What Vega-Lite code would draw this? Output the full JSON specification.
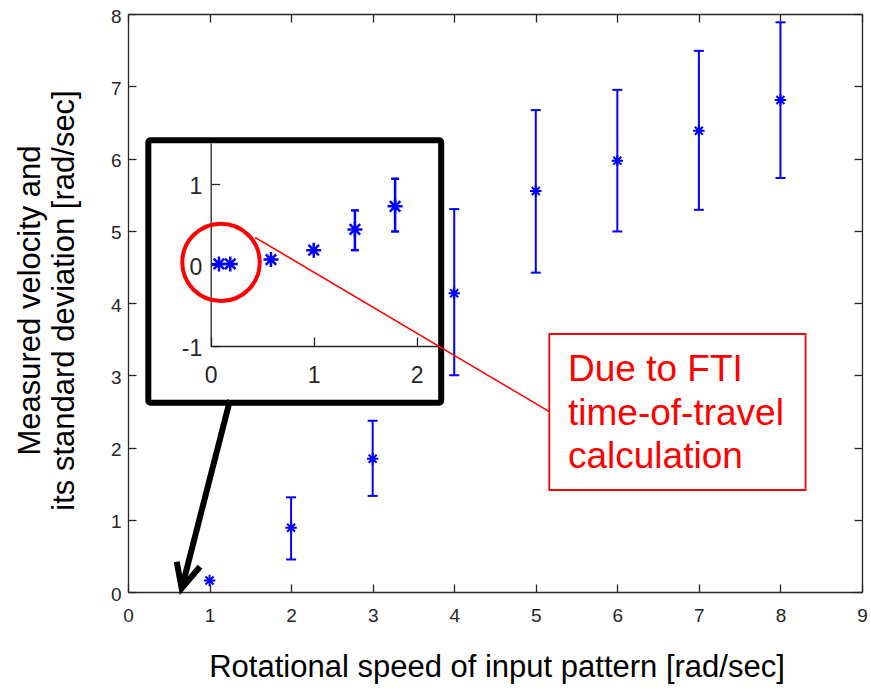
{
  "$schema": "https://vega.github.io/schema/vega-lite/v6.json",
  "width": 734,
  "height": 578,
  "autosize": {"type": "none"},
  "padding": {"left": 128, "top": 14, "right": 9, "bottom": 96},
  "background": "white",
  "config": {
    "view": {"stroke": null},
    "font": "Liberation Sans",
    "axis": {
      "grid": false,
      "domainColor": "#262626",
      "tickColor": "#262626",
      "labelColor": "#262626",
      "domainWidth": 1.3,
      "tickWidth": 1.3,
      "labelFont": "Liberation Sans",
      "labelFlush": false,
      "labelOverlap": false,
      "titleFont": "Liberation Sans",
      "titleFontWeight": "normal",
      "titleColor": "#000000"
    }
  },
  "datasets": {
    "main": [
      {"x": 1, "y": 0.16},
      {"x": 2, "y": 0.89, "lo": 0.45, "hi": 1.31},
      {"x": 3, "y": 1.845, "lo": 1.33, "hi": 2.37},
      {"x": 4, "y": 4.134, "lo": 3.0, "hi": 5.3},
      {"x": 5, "y": 5.55, "lo": 4.42, "hi": 6.67},
      {"x": 6, "y": 5.97, "lo": 4.99, "hi": 6.95},
      {"x": 7, "y": 6.385, "lo": 5.29, "hi": 7.49},
      {"x": 8, "y": 6.81, "lo": 5.73, "hi": 7.885}
    ],
    "inset": [
      {"x": 0.08, "y": 0.01},
      {"x": 0.19, "y": 0.01},
      {"x": 0.585, "y": 0.065},
      {"x": 1.0, "y": 0.18},
      {"x": 1.4, "y": 0.435, "lo": 0.18, "hi": 0.67},
      {"x": 1.79, "y": 0.72, "lo": 0.41, "hi": 1.06}
    ]
  },
  "layer": [
    {
      "layer": [
        {
          "data": {"name": "main"},
          "mark": {"type": "rule", "color": "#0000ff", "strokeWidth": 2},
          "encoding": {
            "x": {"field": "x", "type": "quantitative", "scale": {"domain": [0, 9], "nice": false, "zero": false},
              "axis": {"orient": "bottom", "values": [0, 1, 2, 3, 4, 5, 6, 7, 8, 9], "tickSize": -8, "labelPadding": 22.7, "labelFontSize": 19,
                "title": "Rotational speed of input pattern [rad/sec]", "titleFontSize": 31, "titleBaseline": "alphabetic", "titleX": 368.5, "titleY": 84}},
            "y": {"field": "lo", "type": "quantitative", "scale": {"domain": [0, 8], "nice": false, "zero": false},
              "axis": {"orient": "left", "values": [0, 1, 2, 3, 4, 5, 6, 7, 8], "tickSize": -8, "labelPadding": 15, "labelFontSize": 19, "labelOffset": 2,
                "title": ["Measured velocity and", "its standard deviation [rad/sec]"], "titleFontSize": 31, "titleLineHeight": 34, "titleBaseline": "alphabetic", "titleX": -89, "titleY": 286}},
            "y2": {"field": "hi"}
          }
        },
        {
          "data": {"name": "main"},
          "mark": {"type": "rule", "color": "#0000ff", "strokeWidth": 2, "xOffset": -5, "x2Offset": 5},
          "encoding": {
            "x": {"field": "x", "type": "quantitative", "scale": {"domain": [0, 9], "nice": false, "zero": false}, "axis": null},
            "x2": {"field": "x"},
            "y": {"field": "hi", "type": "quantitative", "scale": {"domain": [0, 8], "nice": false, "zero": false}, "axis": null}
          }
        },
        {
          "data": {"name": "main"},
          "mark": {"type": "rule", "color": "#0000ff", "strokeWidth": 2, "xOffset": -5, "x2Offset": 5},
          "encoding": {
            "x": {"field": "x", "type": "quantitative", "scale": {"domain": [0, 9], "nice": false, "zero": false}, "axis": null},
            "x2": {"field": "x"},
            "y": {"field": "lo", "type": "quantitative", "scale": {"domain": [0, 8], "nice": false, "zero": false}, "axis": null}
          }
        },
        {
          "data": {"name": "main"},
          "mark": {"type": "point", "shape": "M-1,0L1,0M0,-1L0,1M-0.7,-0.7L0.7,0.7M-0.7,0.7L0.7,-0.7", "size": 130, "filled": false, "stroke": "#0000ff", "strokeWidth": 2, "opacity": 1},
          "encoding": {
            "x": {"field": "x", "type": "quantitative", "scale": {"domain": [0, 9], "nice": false, "zero": false}, "axis": null},
            "y": {"field": "y", "type": "quantitative", "scale": {"domain": [0, 8], "nice": false, "zero": false}, "axis": null}
          }
        },
        {
          "data": {"name": "main"},
          "mark": {"type": "point", "opacity": 0},
          "encoding": {
            "x": {"field": "x", "type": "quantitative", "scale": {"domain": [0, 9], "nice": false, "zero": false},
              "axis": {"orient": "top", "values": [0, 1, 2, 3, 4, 5, 6, 7, 8, 9], "labels": false, "tickSize": -8, "title": null}},
            "y": {"field": "y", "type": "quantitative", "scale": {"domain": [0, 8], "nice": false, "zero": false},
              "axis": {"orient": "right", "values": [0, 1, 2, 3, 4, 5, 6, 7, 8], "labels": false, "tickSize": -8, "title": null}}
          }
        },
        {
          "data": {"values": [{"x": 0.249, "x2": 3.84, "y": 6.252, "y2": 2.62}]},
          "mark": {"type": "rect", "fill": "transparent", "stroke": "#000000", "strokeWidth": 6, "cornerRadius": 2},
          "encoding": {
            "x": {"field": "x", "type": "quantitative", "scale": {"domain": [0, 9], "nice": false, "zero": false}, "axis": null},
            "x2": {"field": "x2"},
            "y": {"field": "y", "type": "quantitative", "scale": {"domain": [0, 8], "nice": false, "zero": false}, "axis": null},
            "y2": {"field": "y2"}
          }
        },
        {
          "data": {"values": [{"x": 5.166, "x2": 8.308, "y": 3.571, "y2": 1.412}]},
          "mark": {"type": "rect", "fill": "#ffffff", "stroke": "#ff0000", "strokeWidth": 1.8},
          "encoding": {
            "x": {"field": "x", "type": "quantitative", "scale": {"domain": [0, 9], "nice": false, "zero": false}, "axis": null},
            "x2": {"field": "x2"},
            "y": {"field": "y", "type": "quantitative", "scale": {"domain": [0, 8], "nice": false, "zero": false}, "axis": null},
            "y2": {"field": "y2"}
          }
        },
        {
          "data": {"values": [{"x": 1.557, "y": 4.909, "x2": 5.166, "y2": 2.496}]},
          "mark": {"type": "rule", "color": "#ff0000", "strokeWidth": 1.6},
          "encoding": {
            "x": {"field": "x", "type": "quantitative", "scale": {"domain": [0, 9], "nice": false, "zero": false}, "axis": null},
            "x2": {"field": "x2"},
            "y": {"field": "y", "type": "quantitative", "scale": {"domain": [0, 8], "nice": false, "zero": false}, "axis": null},
            "y2": {"field": "y2"}
          }
        },
        {
          "data": {"values": [{"x": 1.251, "y": 2.657, "x2": 0.671, "y2": 0.105}]},
          "mark": {"type": "rule", "color": "#000000", "strokeWidth": 6},
          "encoding": {
            "x": {"field": "x", "type": "quantitative", "scale": {"domain": [0, 9], "nice": false, "zero": false}, "axis": null},
            "x2": {"field": "x2"},
            "y": {"field": "y", "type": "quantitative", "scale": {"domain": [0, 8], "nice": false, "zero": false}, "axis": null},
            "y2": {"field": "y2"}
          }
        },
        {
          "data": {"values": [{"o": 1, "x": 0.597, "y": 0.419}, {"o": 2, "x": 0.658, "y": 0.051}, {"o": 3, "x": 0.883, "y": 0.35}]},
          "mark": {"type": "line", "color": "#000000", "strokeWidth": 6, "strokeJoin": "miter", "strokeCap": "butt"},
          "encoding": {
            "x": {"field": "x", "type": "quantitative", "scale": {"domain": [0, 9], "nice": false, "zero": false}, "axis": null},
            "y": {"field": "y", "type": "quantitative", "scale": {"domain": [0, 8], "nice": false, "zero": false}, "axis": null},
            "order": {"field": "o", "type": "quantitative"}
          }
        },
        {
          "data": {"values": [
            {"x": 5.395, "y": 2.92, "t": "Due to FTI"},
            {"x": 5.395, "y": 2.318, "t": "time-of-travel"},
            {"x": 5.395, "y": 1.716, "t": "calculation"}
          ]},
          "mark": {"type": "text", "color": "#ff0000", "font": "Liberation Sans", "fontSize": 37, "align": "left", "baseline": "alphabetic"},
          "encoding": {
            "x": {"field": "x", "type": "quantitative", "scale": {"domain": [0, 9], "nice": false, "zero": false}, "axis": null},
            "y": {"field": "y", "type": "quantitative", "scale": {"domain": [0, 8], "nice": false, "zero": false}, "axis": null},
            "text": {"field": "t"}
          }
        }
      ],
      "resolve": {"axis": {"x": "independent", "y": "independent"}}
    },
    {
      "layer": [
        {
          "data": {"name": "inset"},
          "mark": {"type": "rule", "color": "#0000ff", "strokeWidth": 2.5},
          "encoding": {
            "x": {"field": "x", "type": "quantitative", "scale": {"domain": [0, 2.22], "range": [82.7, 311.4], "nice": false, "zero": false},
              "axis": {"orient": "bottom", "offset": -246, "values": [0, 1, 2], "tickSize": -9, "labelPadding": 27.8, "labelFontSize": 23, "title": null}},
            "y": {"field": "lo", "type": "quantitative", "scale": {"domain": [-1, 1.5], "range": [332, 129], "nice": false, "zero": false},
              "axis": {"orient": "left", "offset": -82.7, "values": [-1, 0, 1], "tickSize": -9, "labelPadding": 18, "labelFontSize": 23, "labelOffset": 2.5, "labelExpr": "'' + datum.value", "title": null}},
            "y2": {"field": "hi"}
          }
        },
        {
          "data": {"name": "inset"},
          "mark": {"type": "rule", "color": "#0000ff", "strokeWidth": 2.5, "xOffset": -4, "x2Offset": 4},
          "encoding": {
            "x": {"field": "x", "type": "quantitative", "scale": {"domain": [0, 2.22], "range": [82.7, 311.4], "nice": false, "zero": false}, "axis": null},
            "x2": {"field": "x"},
            "y": {"field": "hi", "type": "quantitative", "scale": {"domain": [-1, 1.5], "range": [332, 129], "nice": false, "zero": false}, "axis": null}
          }
        },
        {
          "data": {"name": "inset"},
          "mark": {"type": "rule", "color": "#0000ff", "strokeWidth": 2.5, "xOffset": -4, "x2Offset": 4},
          "encoding": {
            "x": {"field": "x", "type": "quantitative", "scale": {"domain": [0, 2.22], "range": [82.7, 311.4], "nice": false, "zero": false}, "axis": null},
            "x2": {"field": "x"},
            "y": {"field": "lo", "type": "quantitative", "scale": {"domain": [-1, 1.5], "range": [332, 129], "nice": false, "zero": false}, "axis": null}
          }
        },
        {
          "data": {"name": "inset"},
          "mark": {"type": "point", "shape": "M-1,0L1,0M0,-1L0,1M-0.7,-0.7L0.7,0.7M-0.7,0.7L0.7,-0.7", "size": 225, "filled": false, "stroke": "#0000ff", "strokeWidth": 2.5, "opacity": 1},
          "encoding": {
            "x": {"field": "x", "type": "quantitative", "scale": {"domain": [0, 2.22], "range": [82.7, 311.4], "nice": false, "zero": false}, "axis": null},
            "y": {"field": "y", "type": "quantitative", "scale": {"domain": [-1, 1.5], "range": [332, 129], "nice": false, "zero": false}, "axis": null}
          }
        },
        {
          "data": {"values": [{"x": 0.1, "y": 0.03}]},
          "mark": {"type": "point", "shape": "circle", "size": 6000, "filled": false, "stroke": "#ff0000", "strokeWidth": 4, "opacity": 1},
          "encoding": {
            "x": {"field": "x", "type": "quantitative", "scale": {"domain": [0, 2.22], "range": [82.7, 311.4], "nice": false, "zero": false}, "axis": null},
            "y": {"field": "y", "type": "quantitative", "scale": {"domain": [-1, 1.5], "range": [332, 129], "nice": false, "zero": false}, "axis": null}
          }
        }
      ],
      "resolve": {"axis": {"x": "independent", "y": "independent"}}
    }
  ],
  "resolve": {"scale": {"x": "independent", "y": "independent"}, "axis": {"x": "independent", "y": "independent"}}
}
